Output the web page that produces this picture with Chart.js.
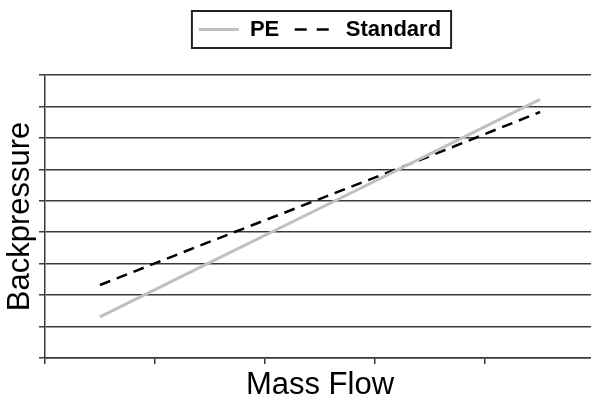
<!DOCTYPE html>
<html>
<head>
<meta charset="utf-8">
<script src="https://cdn.jsdelivr.net/npm/chart.js@4.4.1/dist/chart.umd.min.js"></script>
<style>
  html, body { margin: 0; padding: 0; background: #fff; overflow: hidden; width: 591px; height: 401px; }
  canvas { display: block; }
</style>
</head>
<body>
<canvas id="c" width="640" height="401"></canvas>
<script>
// Data (arbitrary units, no tick labels shown)
const categories = ['1', '2', '3', '4', '5'];
const peValues = [1.31, 3.04, 4.76, 6.49, 8.22];
const standardValues = [2.32, 3.70, 5.06, 6.42, 7.82];
const seriesNames = ['PE', 'Standard'];
const yMin = 0, yMax = 9, yStep = 1;
const xTitle = 'Mass Flow';
const yTitle = 'Backpressure';

const FONT = "'Liberation Sans', Arial, sans-serif";
const AXIS_COLOR = '#3a3a3a';

// Center the legend over the plot area (the reference's plot runs past the right edge)
const legendShift = {
  id: 'legendShift',
  afterLayout(chart) {
    const lg = chart.legend, ca = chart.chartArea;
    if (!lg || !ca) return;
    const shift = (ca.left + ca.right) / 2 - (lg.left + lg.right) / 2;
    lg.left += shift;
    lg.right += shift;
  }
};

const legendBorder = {
  id: 'legendBorder',
  afterDraw(chart) {
    const lg = chart.legend;
    if (!lg || !lg.legendHitBoxes || !lg.legendHitBoxes.length) return;
    const hb = lg.legendHitBoxes;
    const first = hb[0], last = hb[hb.length - 1];
    const cy = first.top + first.height / 2;
    const x0 = first.left - 7;
    const x1 = last.left + last.width + 10;
    const ctx = chart.ctx;
    ctx.save();
    ctx.strokeStyle = '#222';
    ctx.lineWidth = 2;
    ctx.setLineDash([]);
    ctx.strokeRect(x0, cy - 18.5, x1 - x0, 37);
    ctx.restore();
  }
};

new Chart(document.getElementById('c'), {
  type: 'line',
  data: {
    labels: categories,
    datasets: [
      {
        label: seriesNames[0],
        data: peValues,
        borderColor: '#c0c0c0',
        backgroundColor: '#c0c0c0',
        borderWidth: 3,
        pointRadius: 0,
        tension: 0,
        fill: false
      },
      {
        label: seriesNames[1],
        data: standardValues,
        borderColor: '#000000',
        backgroundColor: '#000000',
        borderWidth: 2.5,
        borderDash: [11, 7],
        pointRadius: 0,
        tension: 0,
        fill: false
      }
    ]
  },
  options: {
    responsive: false,
    animation: false,
    devicePixelRatio: 1,
    layout: { padding: { left: 1.8, right: 45, top: 3, bottom: 0 } },
    plugins: {
      tooltip: { enabled: false },
      legend: {
        display: true,
        position: 'top',
        labels: {
          usePointStyle: true,
          pointStyle: 'line',
          pointStyleWidth: 40,
          boxHeight: 22,
          padding: 15.5,
          color: '#000',
          font: { family: FONT, size: 22, weight: 'bold' },
          generateLabels(chart) {
            const items = Chart.defaults.plugins.legend.labels.generateLabels(chart);
            items.forEach(it => {
              const ds = chart.data.datasets[it.datasetIndex];
              it.lineDash = ds.borderDash ? [12, 10] : [];
              it.lineWidth = ds.borderWidth;
              it.strokeStyle = ds.borderColor;
            });
            return items;
          }
        }
      },
      subtitle: {
        display: true,
        text: '',
        weight: 500,
        font: { size: 1, lineHeight: 1 },
        padding: { top: 23.4, bottom: 0 }
      }
    },
    scales: {
      x: {
        type: 'category',
        offset: true,
        grid: {
          display: true,
          offset: true,
          drawOnChartArea: false,
          drawTicks: true,
          tickLength: 6,
          color: AXIS_COLOR,
          lineWidth: 1.5
        },
        border: { display: true, color: AXIS_COLOR, width: 1.5 },
        ticks: { display: false },
        title: {
          display: true,
          text: xTitle,
          color: '#000',
          font: { family: FONT, size: 31, lineHeight: 1 },
          padding: { top: 6, bottom: 0 }
        }
      },
      y: {
        min: yMin,
        max: yMax,
        grid: {
          display: true,
          drawTicks: true,
          tickLength: 6,
          color: AXIS_COLOR,
          lineWidth: 1.5
        },
        border: { display: true, color: AXIS_COLOR, width: 1.5 },
        ticks: { display: false, stepSize: yStep },
        title: {
          display: true,
          text: yTitle,
          color: '#000',
          font: { family: FONT, size: 31, lineHeight: 1.2 },
          padding: { top: 0, bottom: 0 }
        }
      }
    }
  },
  plugins: [legendShift, legendBorder]
});
</script>
</body>
</html>
